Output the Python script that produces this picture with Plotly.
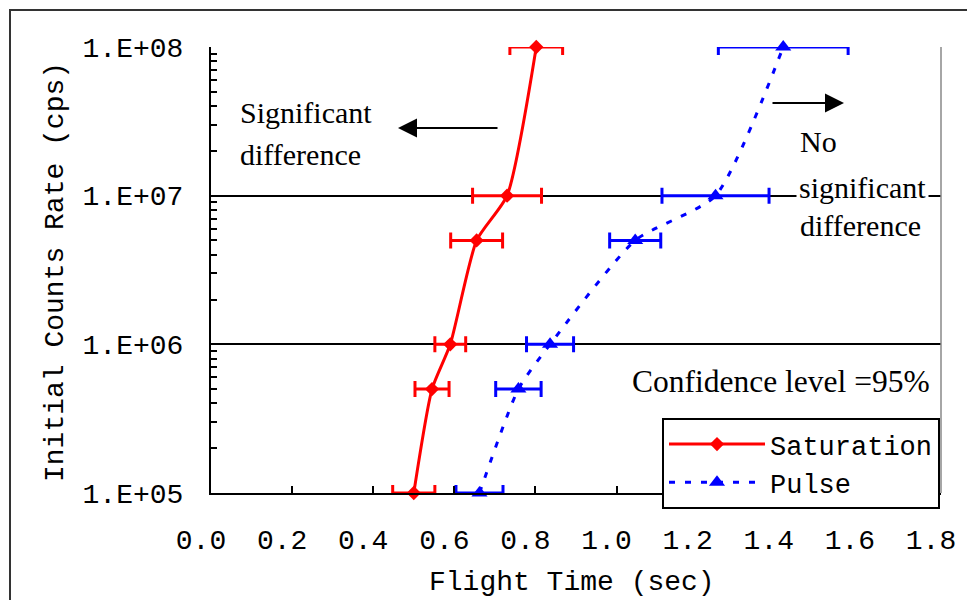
import plotly.graph_objects as go

# ---- data ----
counts = [1e5, 5e5, 1e6, 5e6, 1e7, 1e8]
sat_time = [0.500, 0.545, 0.590, 0.655, 0.730, 0.802]
sat_err = [0.052, 0.042, 0.038, 0.064, 0.085, 0.065]
pulse_time = [0.662, 0.758, 0.836, 1.046, 1.244, 1.411]
pulse_err = [0.058, 0.056, 0.058, 0.063, 0.132, 0.160]

y_ticks = [1e5, 1e6, 1e7, 1e8]
y_ticktext = ["1.E+05", "1.E+06", "1.E+07", "1.E+08"]
y_minor = [m * 10 ** e for e in (5, 6, 7) for m in range(2, 10)]

MONO = "Liberation Mono"
SERIF = "Liberation Serif"

fig = go.Figure()
fig.add_trace(go.Scatter(
    x=sat_time, y=counts, name="Saturation", mode="lines+markers",
    line=dict(color="#ff0000", width=3, shape="spline", smoothing=0.6),
    marker=dict(symbol="diamond", size=11, color="#ff0000"),
    error_x=dict(type="data", array=sat_err, symmetric=True, color="#ff0000",
                 thickness=3, width=8),
    cliponaxis=False,
))
fig.add_trace(go.Scatter(
    x=pulse_time, y=counts, name="Pulse", mode="lines+markers",
    line=dict(color="#0000ff", width=3, dash="6px,10px", shape="spline", smoothing=0.6),
    marker=dict(symbol="triangle-up", size=14, color="#0000ff"),
    error_x=dict(type="data", array=pulse_err, symmetric=True, color="#0000ff",
                 thickness=3, width=8),
    cliponaxis=False,
))

L, R, T, B = 211, 26, 47, 107
W, H = 967, 600
pw, ph = W - L - R, H - T - B


def px(x):
    return (x - L) / pw


def py(y):
    return (H - B - y) / ph


fig.update_layout(
    width=W, height=H,
    margin=dict(l=L, r=R, t=T, b=B, pad=0),
    paper_bgcolor="white", plot_bgcolor="white",
    showlegend=True,
    legend=dict(
        x=px(662), y=py(418), xanchor="left", yanchor="top",
        bgcolor="white", bordercolor="black", borderwidth=2,
        font=dict(family=MONO, size=27, color="black"),
        itemwidth=96, tracegroupgap=0,
    ),
    xaxis=dict(
        range=[0, 1.8], dtick=0.2, tick0=0, tickformat=".1f",
        showgrid=False, zeroline=False,
        showline=True, linecolor="black", linewidth=2,
        ticks="inside", ticklen=7, tickwidth=1.5, tickcolor="black",
        tickfont=dict(family=MONO, size=28, color="black"),
        ticklabelstandoff=20, ticklabelshift=-10,
    ),
    yaxis=dict(
        type="log", range=[5, 8],
        tickmode="array", tickvals=y_ticks, ticktext=y_ticktext,
        showgrid=True, gridcolor="black", gridwidth=1.5,
        zeroline=False,
        showline=True, linecolor="black", linewidth=2,
        ticks="", tickfont=dict(family=MONO, size=28, color="black"),
        ticklabelstandoff=20,
        minor=dict(tickmode="array", tickvals=y_minor, ticks="inside",
                   ticklen=6, tickwidth=1.5, tickcolor="black", showgrid=False),
    ),
)

annotations = [
    dict(text="Initial Counts Rate (cps)", x=px(55), y=py(272), textangle=-90,
         font=dict(family=MONO, size=28, color="black")),
    dict(text="Flight Time (sec)", x=px(572), y=py(582),
         font=dict(family=MONO, size=28, color="black")),
    dict(text="Significant", x=px(238), y=py(113), xanchor="left",
         font=dict(family=SERIF, size=30, color="black")),
    dict(text="difference", x=px(238), y=py(154), xanchor="left",
         font=dict(family=SERIF, size=30, color="black")),
    dict(text="No", x=px(798), y=py(142), xanchor="left",
         font=dict(family=SERIF, size=30, color="black")),
    dict(text="significant", x=px(796), y=py(187), xanchor="left",
         bgcolor="white", borderpad=2,
         font=dict(family=SERIF, size=30, color="black")),
    dict(text="difference", x=px(798), y=py(225), xanchor="left",
         font=dict(family=SERIF, size=30, color="black")),
    dict(text="Confidence level =95%", x=px(932), y=py(381), xanchor="right",
         font=dict(family=SERIF, size=31.5, color="black")),
]
for a in annotations:
    a.update(xref="paper", yref="paper", showarrow=False)
    if "xanchor" not in a:
        a["xanchor"] = "center"
    a.setdefault("yanchor", "middle")

# arrows
annotations.append(dict(x=px(398), y=py(128), xref="paper", yref="paper",
                        ax=101, ay=0, text="", showarrow=True, arrowhead=2,
                        arrowsize=1.9, arrowwidth=2, arrowcolor="black"))
annotations.append(dict(x=px(844), y=py(103), xref="paper", yref="paper",
                        ax=-73, ay=0, text="", showarrow=True, arrowhead=2,
                        arrowsize=1.9, arrowwidth=2, arrowcolor="black"))
fig.update_layout(annotations=annotations)

# plot-area right border (gray) and outer chart frame
fig.add_shape(type="line", xref="paper", yref="paper", x0=1, x1=1, y0=0, y1=1,
              line=dict(color="#888888", width=1.5), layer="above")
fig.add_shape(type="rect", xref="paper", yref="paper",
              x0=px(10), x1=px(990), y0=py(620), y1=py(10),
              line=dict(color="#333333", width=2), layer="above")

fig.write_html("out.html")
